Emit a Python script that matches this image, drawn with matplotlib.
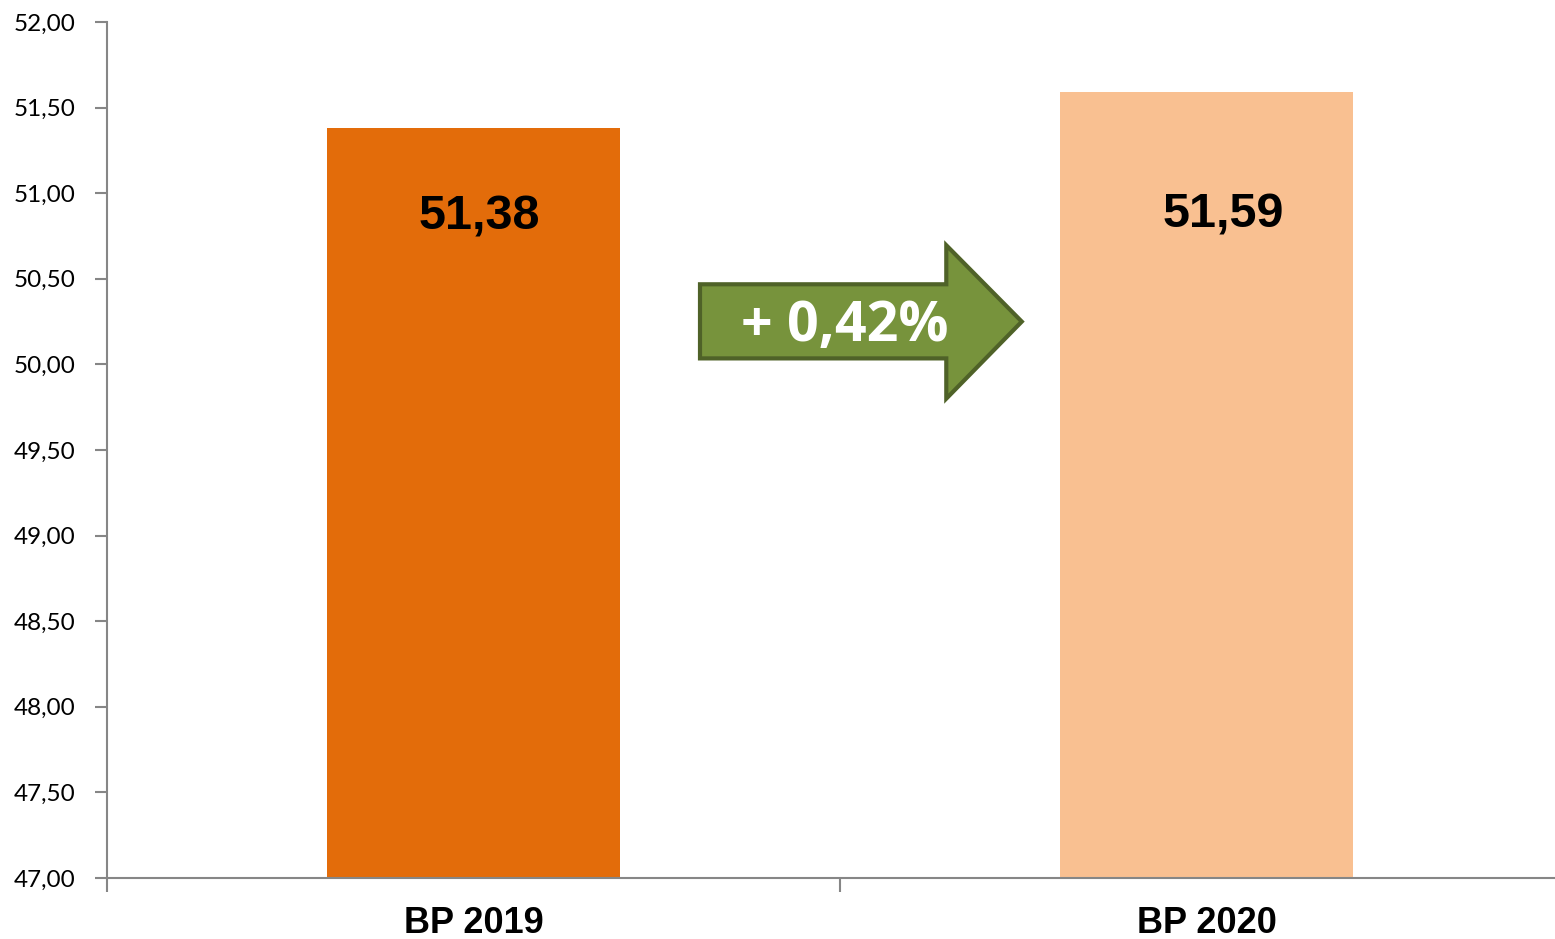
import numpy as np
import matplotlib.pyplot as plt
from matplotlib.patches import Polygon
from matplotlib.ticker import FuncFormatter, FixedLocator

# data
categories = ["BP 2019", "BP 2020"]
values = [51.38, 51.59]
value_labels = ["51,38", "51,59"]
change_label = "+ 0,42%"
bar_colors = ["#E36C0A", "#F9C091"]

fig = plt.figure(figsize=(15.55, 9.39), dpi=100)
ax = fig.add_axes([107 / 1555, 61 / 939, 1466 / 1555, 856 / 939])

x = np.arange(len(categories))
ax.bar(x, [v - 47 for v in values], bottom=47, width=0.40, color=bar_colors, zorder=2)

ax.set_xlim(-0.5, 1.5)
ax.set_ylim(47, 52)

# y axis
ax.set_yticks(np.arange(47, 52.01, 0.5))
ax.yaxis.set_major_formatter(FuncFormatter(lambda v, p: f"{v:.2f}".replace(".", ",")))
ax.tick_params(axis="y", length=9, width=1.5, color="#868686", pad=14, labelsize=17.5)
for lab in ax.get_yticklabels():
    lab.set_family(["Lato", "DejaVu Sans"])

# x axis: labels at centers, tick marks between categories
ax.set_xticks(x)
ax.set_xticklabels(categories, fontsize=26, fontweight="bold",
                   family=["Liberation Sans", "DejaVu Sans"])
ax.tick_params(axis="x", which="major", length=0, pad=20)
ax.xaxis.set_minor_locator(FixedLocator([-0.5, 0.5, 1.5]))
ax.tick_params(axis="x", which="minor", length=10, width=1.5, color="#868686")

for s in ["top", "right"]:
    ax.spines[s].set_visible(False)
for s in ["left", "bottom"]:
    ax.spines[s].set_color("#868686")
    ax.spines[s].set_linewidth(1.5)

# value labels inside bars
label_drop = [0.52, 0.72]
label_shift = [0.008, 0.023]
for xi, v, t, d, sh in zip(x, values, value_labels, label_drop, label_shift):
    ax.text(xi + sh, v - d, t, ha="center", va="center", fontsize=35,
            fontweight="bold", family=["Liberation Sans", "DejaVu Sans"], color="black", zorder=3)

# green arrow with change
arrow = [(0.309, 50.468), (0.645, 50.468), (0.645, 50.696), (0.748, 50.25),
         (0.645, 49.80), (0.645, 50.035), (0.309, 50.035)]
ax.add_patch(Polygon(arrow, closed=True, facecolor="#77933C", edgecolor="#4F6228",
                     linewidth=3, zorder=4, clip_on=False))
ax.text(0.507, 50.22, change_label, ha="center", va="center", fontsize=40,
        fontweight="bold", color="white", family=["Open Sans", "DejaVu Sans"], zorder=5)

fig.savefig("out.png", dpi=100)
